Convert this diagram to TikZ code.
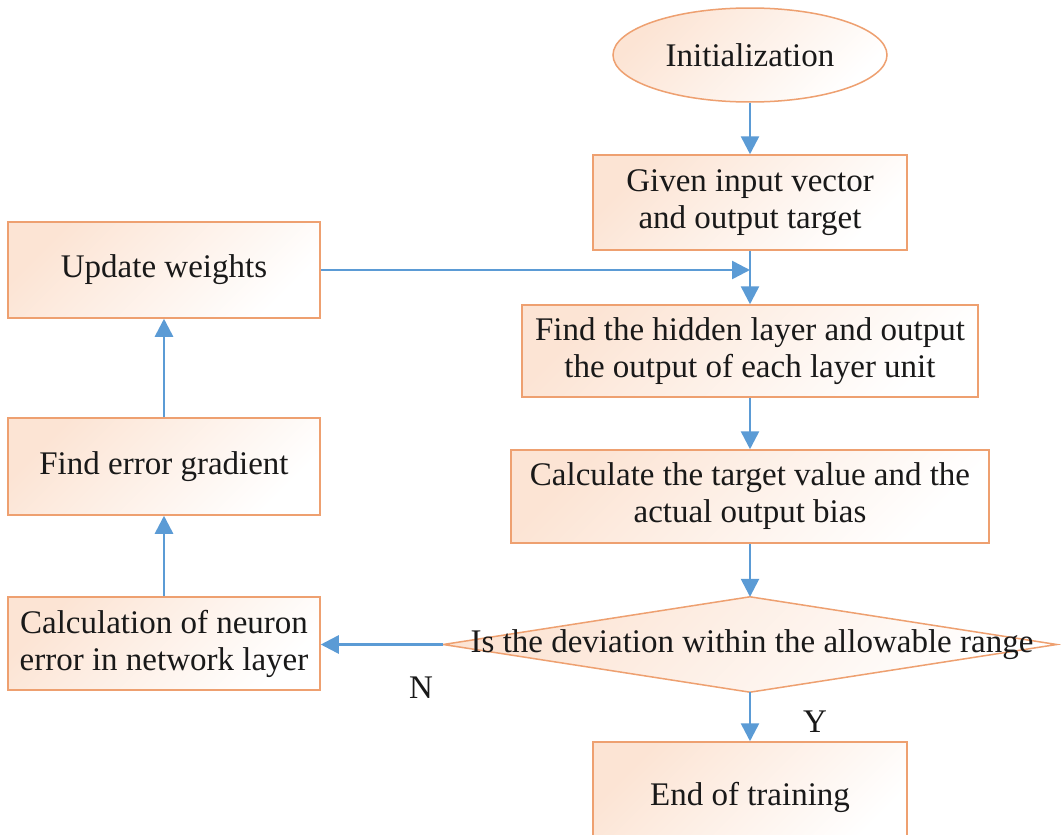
\documentclass[tikz,border=0pt]{standalone}
\usepackage{fontspec}
\setmainfont{Liberation Serif}
\usetikzlibrary{shapes.geometric,arrows.meta}
\definecolor{bordo}{RGB}{238,160,112}
\definecolor{peach}{RGB}{252,228,212}
\definecolor{arrblue}{RGB}{91,155,213}
\definecolor{txt}{RGB}{25,25,25}
\tikzset{
  shadefill/.style={top color=peach, bottom color=white, shading angle=45},
  procbox/.style={draw=bordo, line width=1.5pt, shadefill, rectangle, inner sep=2pt,
    align=center, text=txt, font=\fontsize{33}{37}\selectfont},
  flow/.style={draw=arrblue, line width=2.6pt, -{Triangle[width=18pt,length=18pt]}},
  lbl/.style={text=txt, font=\fontsize{33}{37}\selectfont, inner sep=0pt},
}
\begin{document}
\begin{tikzpicture}[x=1pt,y=-1pt]
\useasboundingbox (0,0) rectangle (1061,835);
\fill[white] (0,0) rectangle (1061,835);
% right column
\node[procbox, ellipse, minimum width=274pt, minimum height=94pt] (init) at (750,55) {Initialization};
\node[procbox, minimum width=314pt, minimum height=95pt] (given) at (750,202.5) {Given input vector\\and output target};
\node[procbox, minimum width=456pt, minimum height=92pt] (hidden) at (750,351) {Find the hidden layer and output\\the output of each layer unit};
\node[procbox, minimum width=478pt, minimum height=93pt] (calc) at (750,496.5) {Calculate the target value and the\\actual output bias};
\node[minimum width=613pt, minimum height=95pt, inner sep=0pt] (dec) at (750,644.5) {};
\path[draw=bordo, line width=1.5pt, shadefill] (dec.west) -- (dec.north) -- (dec.east) -- (dec.south) -- cycle;
\node[lbl] (dectext) at (752,644.5) {Is the deviation within the allowable range};
\node[procbox, minimum width=314pt, minimum height=110pt] (endt) at (750,797) {End of training};
% left column
\node[procbox, minimum width=312pt, minimum height=96pt] (upd) at (164,270) {Update weights};
\node[procbox, minimum width=312pt, minimum height=97pt] (grad) at (164,466.5) {Find error gradient};
\node[procbox, minimum width=312pt, minimum height=93pt] (neur) at (164,643.5) {Calculation of neuron\\error in network layer};
% connectors
\draw[flow] (init) -- (given);
\draw[flow] (given) -- (hidden);
\draw[flow] (hidden) -- (calc);
\draw[flow] (calc) -- (dec.north);
\draw[flow] (dec.south) -- (endt);
\draw[flow] (dec.west) -- (neur.east |- dec.west);
\draw[flow] (neur) -- (grad);
\draw[flow] (grad) -- (upd);
\coordinate (join) at (given.south |- upd.east);
\draw[flow] (upd.east) -- (join);
% labels
\node[lbl] (nlab) at (421,688) {N};
\node[lbl] (ylab) at (815,722) {Y};
\end{tikzpicture}
\end{document}
